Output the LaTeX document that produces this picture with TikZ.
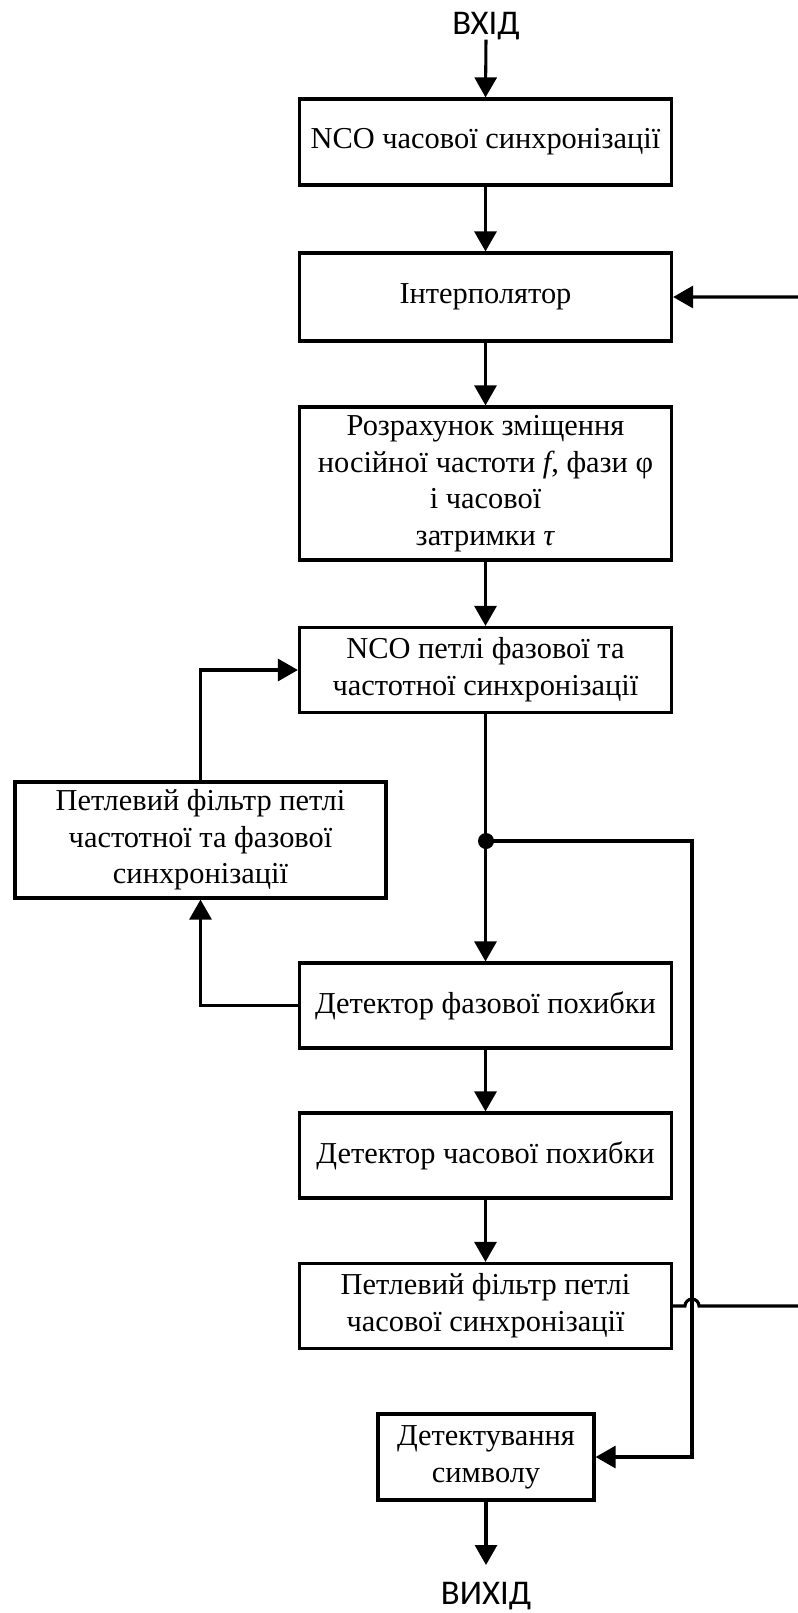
\documentclass[tikz,border=0pt]{standalone}
\usepackage{fontspec}
\setmainfont{Liberation Serif}
\newfontfamily\lblfont{Carlito}
\usetikzlibrary{arrows.meta}
\begin{document}
\begin{tikzpicture}[x=0.75pt,y=-0.75pt,
  box/.style={draw, line width=2.4pt, align=center, inner sep=0pt,
    minimum width=279pt, font=\fontsize{22.8}{27.5}\selectfont},
  arr/.style={line width=2.3pt, -{Triangle[length=15pt,width=16.5pt]}},
  ln/.style={line width=2.3pt},
  io/.style={inner sep=0pt, font=\lblfont\fontsize{26}{30}\selectfont}]
\useasboundingbox (0,0) rectangle (798,1613);

\node[io, anchor=base] (in) at (486,34) {ВХІД};
\node[box, minimum height=64.5pt] (b1) at (485.5,142) {NCO часової синхронізації};
\node[box, minimum height=66pt] (b2) at (485.5,297) {Інтерполятор};
\node[box, minimum height=114.75pt] (b3) at (485.5,483.5)
  {Розрахунок зміщення\\носійної частоти \textit{f}, фази φ\\і часової\\затримки \textit{τ}};
\node[box, minimum height=63.75pt] (b4) at (485.5,670)
  {NCO петлі фазової та\\частотної синхронізації};
\node[box, minimum width=278.25pt, minimum height=87pt] (b5) at (200.5,840)
  {Петлевий фільтр петлі\\частотної та фазової\\синхронізації};
\node[box, minimum height=63.75pt] (b6) at (485.5,1005.5) {Детектор фазової похибки};
\node[box, minimum height=63.75pt] (b7) at (485.5,1155.5) {Детектор часової похибки};
\node[box, minimum height=63.75pt] (b8) at (485.5,1306)
  {Петлевий фільтр петлі\\часової синхронізації};
\node[box, minimum width=162pt, minimum height=64.5pt] (b9) at (486,1457)
  {Детектування\\символу};
\node[io, anchor=base] (out) at (486,1604) {ВИХІД};

\coordinate (junc) at (486,841);
\coordinate (rv) at (692,841);
\coordinate (outtip) at (486,1565);

\draw[arr] (in.south) -- (b1.north);
\draw[arr] (b1.south) -- (b2.north);
\draw[arr] (b2.south) -- (b3.north);
\draw[arr] (b3.south) -- (b4.north);
\draw[arr] (b4.south) -- (b6.north);
\draw[arr] (b6.south) -- (b7.north);
\draw[arr] (b7.south) -- (b8.north);
\draw[arr] (b9.south) -- (outtip);

\draw[arr] (b6.west) -| (b5.south);
\draw[arr] (b5.north) |- (b4.west);

\fill (junc) circle[radius=8];
\draw[arr] (junc) -- (rv) |- (b9.east);

\draw[arr] (b8.east) -- (685,1306) arc[start angle=180, end angle=360, radius=7]
  -- (803,1306) |- (b2.east);
\end{tikzpicture}
\end{document}
